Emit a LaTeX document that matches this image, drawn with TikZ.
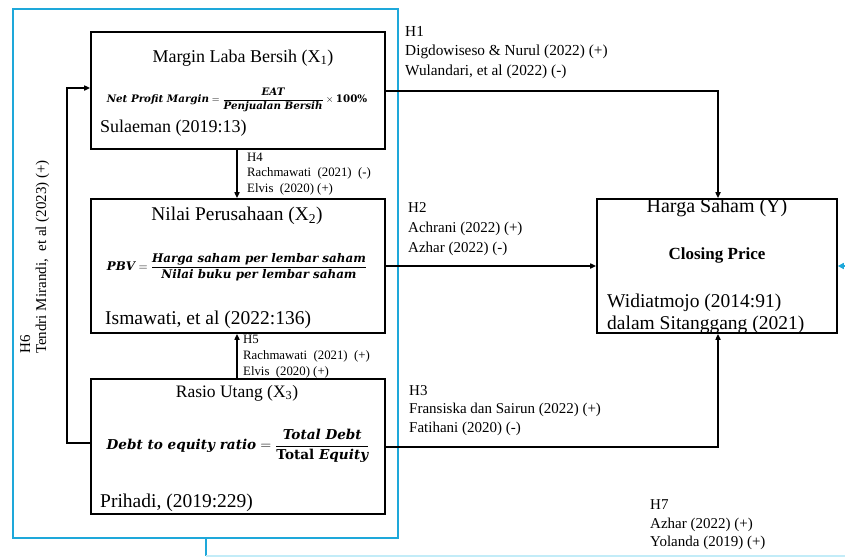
\documentclass[tikz,border=0pt]{standalone}
\usepackage{fontspec}
\usepackage{amsmath}
\setmainfont{Liberation Serif}
\newfontfamily\fml{DejaVu Serif}
\usetikzlibrary{arrows.meta}
\definecolor{bl}{RGB}{30,168,218}
\definecolor{lbl}{RGB}{195,236,248}
\newcommand{\bfit}[1]{\text{\fml\bfseries\itshape #1}}
\newcommand{\bfup}[1]{\text{\fml\bfseries #1}}
\begin{document}
\begin{tikzpicture}[x=1pt,y=-1pt,
  box/.style={draw=black,line width=1.6pt,inner sep=0pt,minimum width=294pt},
  conn/.style={line width=2pt,-{Triangle[length=6pt,width=5pt]}},
  lab/.style={anchor=north west,inner sep=0pt,align=left},
  ttl/.style={inner sep=0pt}]
\useasboundingbox (0,0) rectangle (845,557);
% group frame
\node[draw=bl,line width=2.6pt,minimum width=385pt,minimum height=529pt,inner sep=0pt] (grp) at (205.5,273.5) {};
% boxes
\node[box,minimum height=117pt] (m) at (238,90.5) {};
\node[box,minimum height=134pt] (n) at (238,266) {};
\node[box,minimum height=135pt] (r) at (238,446.5) {};
\node[box,minimum width=240pt,minimum height=134pt] (y) at (717,266) {};
% texts in X1
\node[ttl,font=\fontsize{18}{20}\selectfont] (mt) at (243,58) {Margin Laba Bersih (X\textsubscript{1})};
\node[ttl,font=\fontsize{10.3}{12}\selectfont] (mf) at (237,100) {$\bfit{Net Profit Margin}=\dfrac{\bfit{EAT}}{\bfit{Penjualan Bersih}}\times\bfup{100\%}$};
\node[ttl,anchor=west,font=\fontsize{18}{20}\selectfont] (ms) at (100,128) {Sulaeman (2019:13)};
% texts in X2
\node[ttl,font=\fontsize{19.4}{21}\selectfont] (nt) at (237,216) {Nilai Perusahaan (X\textsubscript{2})};
\node[ttl,font=\fontsize{11.9}{14}\selectfont] (nf) at (237,267) {$\bfit{PBV}=\dfrac{\bfit{Harga saham per lembar saham}}{\bfit{Nilai buku per lembar saham}}$};
\node[ttl,anchor=west,font=\fontsize{19.5}{21}\selectfont] (ns) at (105,320) {Ismawati, et al (2022:136)};
% texts in X3
\node[ttl,font=\fontsize{17.5}{19}\selectfont] (rt) at (237,393) {Rasio Utang (X\textsubscript{3})};
\node[ttl,font=\fontsize{13.6}{16}\selectfont] (rf) at (238,446) {$\bfit{Debt to equity ratio}=\dfrac{\bfit{Total Debt}}{\bfup{Total }\bfit{Equity}}$};
\node[ttl,anchor=west,font=\fontsize{19.5}{21}\selectfont] (rs) at (100,503) {Prihadi, (2019:229)};
% texts in Y
\node[ttl,font=\fontsize{20}{22}\selectfont] (yt) at (717,208) {Harga Saham (Y)};
\node[ttl,font=\bfseries\fontsize{17}{19}\selectfont] (yc) at (717,255) {Closing Price};
\node[lab,font=\fontsize{19.5}{22}\selectfont] (ys) at (607,294) {Widiatmojo (2014:91)\\dalam Sitanggang (2021)};
% connectors
\draw[conn] (m.east) -- (718,90.5) -- (718,199 |- y.north);
\draw[conn] (n.east) -- (y.west);
\draw[conn] (r.east) -- (718,446.5) -- (y.south -| 718,0);
\draw[conn] (m.south -| 237,0) -- (n.north -| 237,0);
\draw[conn] (r.north -| 237,0) -- (n.south -| 237,0);
\draw[conn] (r.west |- 0,443) -- (67,443) -- (67,88) -- (m.west |- 0,88);
% H7 (blue)
\coordinate (h7a) at (206,538);
\coordinate (h7b) at (206,556);
\coordinate (h7c) at (845,556);
\coordinate (h7d) at (848,266);
\draw[bl,line width=2.4pt] (grp.south -| h7a) -- (h7b);
\draw[lbl,line width=2.4pt] (h7b) -- (h7c);
\draw[bl,line width=2pt,-{Triangle[length=6pt,width=6pt]}] (h7d) -- (y.east);
% labels
\node[lab,font=\fontsize{15.3}{19.5}\selectfont] (l1) at (405,26) {H1\\Digdowiseso \& Nurul (2022) (+)\\Wulandari, et al (2022) (-)};
\node[lab,font=\fontsize{15}{20}\selectfont] (l2) at (408,202.5) {H2\\Achrani (2022) (+)\\Azhar (2022) (-)};
\node[lab,font=\fontsize{15}{18.5}\selectfont] (l3) at (409,385) {H3\\Fransiska dan Sairun (2022) (+)\\Fatihani (2020) (-)};
\node[lab,font=\fontsize{12.8}{15.5}\selectfont] (l4) at (247,152.5) {H4\\Rachmawati\ \ (2021)\ \ (-)\\Elvis\ \ (2020) (+)};
\node[lab,font=\fontsize{12.8}{16}\selectfont] (l5) at (243,334.5) {H5\\Rachmawati\ \ (2021)\ \ (+)\\Elvis\ \ (2020) (+)};
\node[lab,font=\fontsize{15}{18.5}\selectfont] (l7) at (650,499.5) {H7\\Azhar (2022) (+)\\Yolanda (2019) (+)};
\node[lab,rotate=90,font=\fontsize{15}{16}\selectfont] (l6) at (20,354) {H6\\Tendri Mirandi,\ \ et al (2023) (+)};
\end{tikzpicture}
\end{document}
